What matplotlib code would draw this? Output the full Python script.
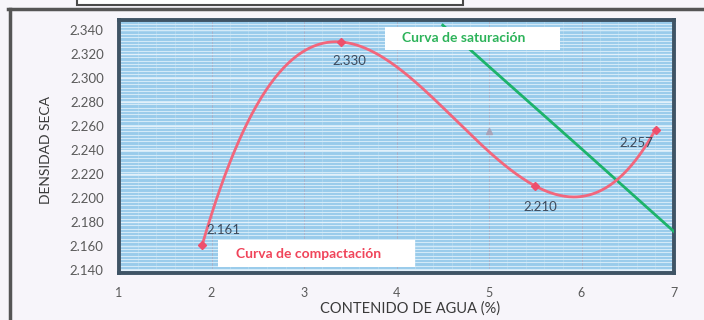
import numpy as np
import matplotlib
matplotlib.use("Agg")
import matplotlib.pyplot as plt
from matplotlib.patches import Rectangle
from matplotlib.lines import Line2D

# ---- data ----
humedad = [1.9, 3.4, 5.5, 6.8]
densidad = [2.161, 2.330, 2.210, 2.257]
etiquetas = ["2.161", "2.330", "2.210", "2.257"]
sat_humedad = [4.5, 5.0, 6.0, 7.0]
sat_densidad = [2.344, 2.3095, 2.241, 2.172]
punto_gris_x = [5.0]
punto_gris_y = [2.256]
x_ticks = [1, 2, 3, 4, 5, 6, 7]
y_ticks = [2.140, 2.160, 2.180, 2.200, 2.220, 2.240, 2.260, 2.280, 2.300, 2.320, 2.340]

W, H = 704, 320
fig = plt.figure(figsize=(W / 100, H / 100), dpi=100)
fig.patch.set_facecolor("#f7f5fa")
plt.rcParams['font.family'] = ['Lato', 'DejaVu Sans']

def fx(px):
    return px / W

def fy(py):
    return 1 - py / H

# outer scanned frame pieces
fig.add_artist(Rectangle((fx(77), fy(5)), fx(463) - fx(77), fy(-10) - fy(5),
                         transform=fig.transFigure, facecolor="white",
                         edgecolor="#4a4a4a", lw=1.5))
fig.add_artist(Line2D([fx(8), 1], [fy(8.5), fy(8.5)], transform=fig.transFigure,
                      color="#555555", lw=2.5))
fig.add_artist(Line2D([fx(10), fx(10)], [fy(8.5), 0], transform=fig.transFigure,
                      color="#555555", lw=2.5))

ax = fig.add_axes([fx(119), fy(273), fx(674) - fx(119), fy(20) - fy(273)])
ax.set_facecolor("#98cbeb")
ax.set_xlim(1, 7)
ax.set_ylim(2.1375, 2.3483)

def px2x(px):
    return 1 + (px - 119) / 92.5

def px2y(py):
    return 2.140 + (270 - py) / 1200

# grid
ax.set_yticks(np.arange(2.138, 2.348, 0.0028), minor=True)
ax.set_xticks(np.arange(1, 7.01, 0.2), minor=True)
ax.grid(which="minor", axis="y", color="#d3eaf8", lw=0.8)
ax.grid(which="minor", axis="x", color="#b3d8f0", lw=0.5)
ax.grid(which="major", axis="y", color="#e3f1fb", lw=1.0)
ax.grid(which="major", axis="x", color="#a7b2cc", lw=0.7)
ax.set_axisbelow(True)

ax.set_xticks(x_ticks)
ax.set_xticklabels([str(t) for t in x_ticks])
ax.set_yticks(y_ticks)
ax.set_yticklabels([f"{v:.3f}" for v in y_ticks])
ax.tick_params(which="both", length=0, colors="#5a5a5a", labelsize=9.5)
ax.tick_params(axis="x", pad=10, labelsize=9)
ax.tick_params(axis="y", pad=11)
for s in ax.spines.values():
    s.set_color("#3f5465")
    s.set_linewidth(2.8)

# saturation line
ax.plot(sat_humedad, sat_densidad, color="#1db36b", lw=2.0, zorder=3)

# compaction curve (cubic trend through the points)
coef = np.polyfit(humedad, densidad, 3)
xs = np.linspace(min(humedad), max(humedad), 300)
ax.plot(xs, np.polyval(coef, xs), color="#f2667c", lw=2.0, zorder=4)
ax.plot(humedad, densidad, linestyle="none", marker="D", ms=4.5,
        color="#ee4f6c", zorder=5)
ax.plot(punto_gris_x, punto_gris_y, linestyle="none", marker="^", ms=5,
        color="#a9a3b8", zorder=3)

# data labels
offs = [(3, 11, "left"), (6, -14, "center"), (4, -15, "center"), (-14, -10, "center")]
for x, y, t, (dx, dy, ha) in zip(humedad, densidad, etiquetas, offs):
    ax.annotate(t, (x, y), xytext=(dx, dy), textcoords="offset points",
                ha=ha, va="center", fontsize=9.5, color="#3d4a5c", zorder=6)

# text boxes (white label boxes)
ax.add_patch(Rectangle((px2x(385), px2y(50)), px2x(560) - px2x(385), px2y(27) - px2y(50),
                       facecolor="white", edgecolor="none", zorder=7))
ax.text(px2x(464), px2y(38), "Curva de saturación", fontsize=10, color="#2db35a",
        fontweight="bold", ha="center", va="center", zorder=8)
ax.add_patch(Rectangle((px2x(218), px2y(267)), px2x(415) - px2x(218), px2y(240) - px2y(267),
                       facecolor="white", edgecolor="none", zorder=7))
ax.text(px2x(309), px2y(254), "Curva de compactación", fontsize=10, color="#f0445a",
        fontweight="bold", ha="center", va="center", zorder=8)

fig.text(fx(46), fy(150), "DENSIDAD SECA", rotation=90, ha="center", va="center",
         fontsize=10, color="#3a3a3a")
fig.text(fx(410), fy(309), "CONTENIDO DE AGUA (%)", ha="center", va="center",
         fontsize=10.5, color="#3a3a3a")

fig.savefig("out.png", dpi=100, facecolor=fig.get_facecolor())
